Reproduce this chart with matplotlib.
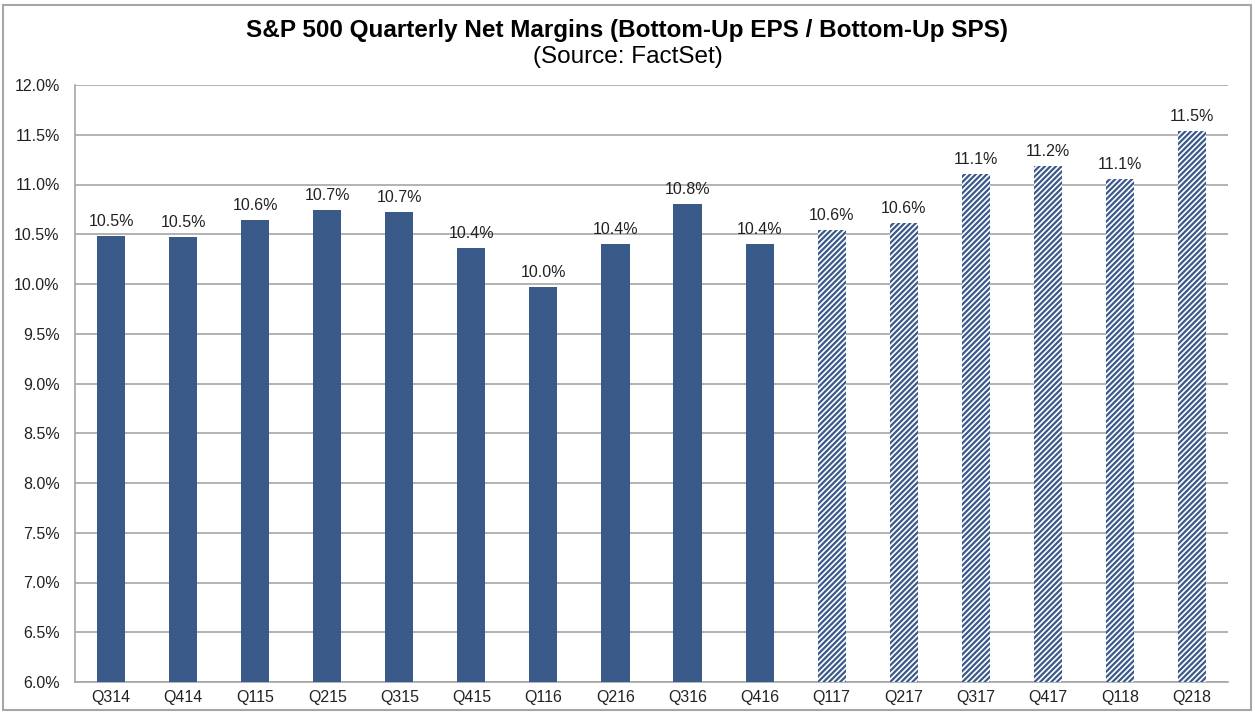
import matplotlib.pyplot as plt
from matplotlib.patches import Rectangle

plt.rcParams['font.family'] = ['Liberation Sans', 'DejaVu Sans']
plt.rcParams['hatch.linewidth'] = 1.6

# quarters and net margin (%)
quarters = ["Q314", "Q414", "Q115", "Q215", "Q315", "Q415", "Q116", "Q216",
            "Q316", "Q416", "Q117", "Q217", "Q317", "Q417", "Q118", "Q218"]
margins = [10.48, 10.47, 10.64, 10.74, 10.72, 10.36, 9.97, 10.40,
           10.80, 10.40, 10.54, 10.61, 11.11, 11.19, 11.06, 11.54]
labels = ["10.5%", "10.5%", "10.6%", "10.7%", "10.7%", "10.4%", "10.0%", "10.4%",
          "10.8%", "10.4%", "10.6%", "10.6%", "11.1%", "11.2%", "11.1%", "11.5%"]
n_actual = 10  # first 10 are actuals, rest are estimates

navy = "#3A5A89"

fig = plt.figure(figsize=(12.55, 7.13), dpi=100)
ax = fig.add_axes([75 / 1255, 1 - 682 / 713, 1153 / 1255, 597 / 713])

x = list(range(len(quarters)))
for i in x:
    if i < n_actual:
        ax.bar(i, margins[i] - 6, bottom=6, width=0.39, color=navy, zorder=3)
    else:
        ax.bar(i, margins[i] - 6, bottom=6, width=0.39, facecolor="white",
               edgecolor=navy, hatch="//////", linewidth=0, zorder=3)
    ax.text(i, margins[i] + 0.07, labels[i], ha="center", va="bottom",
            fontsize=11.5, color="#222222", zorder=4)

ax.set_xlim(-0.5, len(quarters) - 0.5)
ax.set_ylim(6, 12)
ax.set_yticks([6 + 0.5 * k for k in range(13)])
ax.set_yticklabels(["%.1f%%" % (6 + 0.5 * k) for k in range(13)])
ax.set_xticks(x)
ax.set_xticklabels(quarters)
ax.tick_params(axis="both", length=0, labelsize=11.5, colors="#222222")
ax.tick_params(axis="y", pad=11)
ax.tick_params(axis="x", pad=6)
ax.yaxis.grid(True, color="#A6A6A6", linewidth=1.2, zorder=0)
for side in ["top", "right"]:
    ax.spines[side].set_visible(False)
ax.spines["left"].set_color("#A6A6A6")
ax.spines["bottom"].set_color("#A6A6A6")
ax.spines["left"].set_linewidth(1.2)
ax.spines["bottom"].set_linewidth(1.2)

fig.text(0.5, 1 - 31 / 713, "S&P 500 Quarterly Net Margins (Bottom-Up EPS / Bottom-Up SPS)",
         ha="center", va="center", fontsize=17.5, fontweight="bold")
fig.text(0.5, 1 - 57 / 713, "(Source: FactSet)", ha="center", va="center", fontsize=17.5)

# outer border
fig.patches.append(Rectangle((3 / 1255, 3 / 713), 1 - 7 / 1255, 1 - 8 / 713,
                             transform=fig.transFigure, fill=False,
                             edgecolor="#A6A6A6", linewidth=1.5))

fig.savefig("out.png", dpi=100)
